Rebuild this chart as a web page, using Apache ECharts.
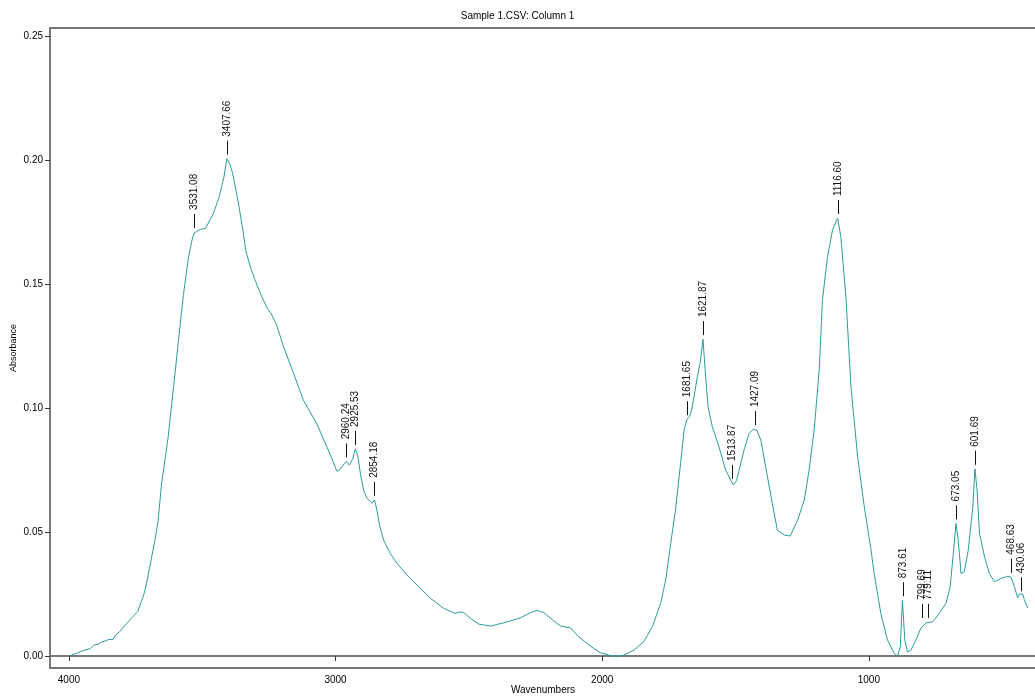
<!DOCTYPE html>
<html>
<head>
<meta charset="utf-8">
<title>Sample 1.CSV: Column 1</title>
<script src="https://cdn.jsdelivr.net/npm/echarts@6/dist/echarts.min.js"></script>
<style>
  html, body { margin: 0; padding: 0; background: #fff; }
  #chart { width: 1035px; height: 697px; }
</style>
</head>
<body>
<div id="chart"></div>
<script>
// spectrum (wavenumber in cm-1, absorbance)
var wavenumbers = [
  4000, 3970, 3940, 3920, 3907, 3890, 3875, 3860, 3850, 3843, 3835, 3825, 3810, 3799, 3785,
  3770, 3755, 3742, 3730, 3717, 3704, 3691, 3678, 3666, 3653, 3640, 3628, 3609, 3590, 3571,
  3552, 3540, 3531, 3520, 3507, 3488, 3470, 3457, 3437, 3418, 3408, 3397, 3387, 3368, 3349,
  3336, 3320, 3304, 3279, 3255, 3241, 3222, 3196, 3158, 3121, 3070, 3019, 2995, 2980, 2968,
  2960, 2948, 2935, 2926, 2917, 2907, 2895, 2882, 2863, 2854, 2845, 2835, 2820, 2795, 2770,
  2726, 2682, 2644, 2594, 2551, 2535, 2519, 2494, 2463, 2419, 2369, 2307, 2269, 2244, 2219,
  2181, 2156, 2119, 2088, 2044, 2006, 1969, 1940, 1919, 1881, 1844, 1812, 1781, 1762, 1743,
  1725, 1706, 1693, 1682, 1672, 1662, 1643, 1631, 1622, 1612, 1603, 1587, 1562, 1537, 1518,
  1508, 1496, 1468, 1449, 1433, 1427, 1420, 1405, 1387, 1362, 1343, 1317, 1295, 1267, 1242,
  1224, 1205, 1186, 1174, 1155, 1136, 1117, 1105, 1086, 1067, 1042, 1017, 992, 980, 955,
  930, 905, 892, 882, 874, 865, 855, 842, 823, 805, 786, 761, 736, 711, 695,
  682, 673, 665, 654, 642, 627, 610, 602, 594, 585, 566, 548, 529, 504, 479,
  467, 454, 442, 436, 429, 423, 417, 410, 404
];
var absorbance = [
  0.0000, 0.0012, 0.0025, 0.0030, 0.0044, 0.0048, 0.0058, 0.0062, 0.0068, 0.0071, 0.0066, 0.0085, 0.0098, 0.0112, 0.0130,
  0.0148, 0.0165, 0.0180, 0.0215, 0.0255, 0.0320, 0.0392, 0.0465, 0.0541, 0.0690, 0.0790, 0.0882, 0.1070, 0.1263, 0.1454,
  0.1604, 0.1670, 0.1705, 0.1712, 0.1720, 0.1724, 0.1760, 0.1788, 0.1849, 0.1935, 0.2005, 0.1985, 0.1950, 0.1849, 0.1727,
  0.1631, 0.1570, 0.1522, 0.1454, 0.1400, 0.1379, 0.1338, 0.1250, 0.1141, 0.1032, 0.0936, 0.0810, 0.0745, 0.0755, 0.0775,
  0.0785, 0.0770, 0.0797, 0.0835, 0.0810, 0.0737, 0.0669, 0.0636, 0.0616, 0.0630, 0.0589, 0.0528, 0.0468, 0.0414, 0.0374,
  0.0320, 0.0273, 0.0233, 0.0192, 0.0172, 0.0178, 0.0175, 0.0152, 0.0129, 0.0121, 0.0134, 0.0154, 0.0175, 0.0184, 0.0175,
  0.0141, 0.0121, 0.0114, 0.0078, 0.0040, 0.0013, 0.0002, 0.0000, 0.0004, 0.0024, 0.0058, 0.0118, 0.0212, 0.0306, 0.0454,
  0.0589, 0.0777, 0.0911, 0.0955, 0.0965, 0.1005, 0.1126, 0.1194, 0.1278, 0.1126, 0.1005, 0.0925, 0.0844, 0.0750, 0.0710,
  0.0690, 0.0707, 0.0831, 0.0898, 0.0914, 0.0915, 0.0911, 0.0871, 0.0763, 0.0616, 0.0508, 0.0488, 0.0484, 0.0548, 0.0629,
  0.0750, 0.0911, 0.1153, 0.1435, 0.1610, 0.1718, 0.1766, 0.1691, 0.1449, 0.1086, 0.0804, 0.0602, 0.0430, 0.0333, 0.0172,
  0.0065, 0.0011, 0.0000, 0.0038, 0.0225, 0.0065, 0.0017, 0.0024, 0.0065, 0.0112, 0.0134, 0.0138, 0.0172, 0.0212, 0.0279,
  0.0427, 0.0535, 0.0468, 0.0333, 0.0340, 0.0427, 0.0602, 0.0755, 0.0669, 0.0495, 0.0400, 0.0333, 0.0300, 0.0313, 0.0322,
  0.0318, 0.0281, 0.0235, 0.0250, 0.0242, 0.0250, 0.0228, 0.0236, 0.0194
];

// picked peaks
var peakWavenumbers = [3531.08, 3407.66, 2960.24, 2925.53, 2854.18, 1681.65, 1621.87, 1513.87, 1427.09, 1116.60, 873.61, 799.69, 779.11, 673.05, 601.69, 468.63, 430.06];
var peakAbsorbance  = [0.1710, 0.2005, 0.0785, 0.0835, 0.0630, 0.0955, 0.1278, 0.0698, 0.0915, 0.1766, 0.0225, 0.0138, 0.0138, 0.0535, 0.0755, 0.0320, 0.0245];
var peakLabels      = ['3531.08', '3407.66', '2960.24', '2925.53', '2854.18', '1681.65', '1621.87', '1513.87', '1427.09', '1116.60', '873.61', '799.69', '779.11', '673.05', '601.69', '468.63', '430.06'];

var spectrum = wavenumbers.map(function (w, i) { return [w, absorbance[i]]; });
var peaks = peakWavenumbers.map(function (w, i) { return [w, peakAbsorbance[i]]; });

var font = '"Liberation Sans", Arial, sans-serif';

// tick mark + rotated number above each peak
function renderPeak(params, api) {
  var p = api.coord([api.value(0), api.value(1)]);
  var x = Math.round(p[0]) + 0.5;
  return {
    type: 'group',
    children: [
      {
        type: 'line',
        shape: { x1: x, y1: p[1] - 4, x2: x, y2: p[1] - 18 },
        style: { stroke: '#111', lineWidth: 1 }
      },
      {
        type: 'text',
        x: x,
        y: p[1] - 22,
        rotation: Math.PI / 2,
        style: {
          text: peakLabels[params.dataIndex],
          align: 'left',
          verticalAlign: 'middle',
          fill: '#111',
          font: '10px ' + font
        }
      }
    ]
  };
}

var myChart = echarts.init(document.getElementById('chart'));

myChart.setOption({
  animation: false,
  backgroundColor: '#fff',
  title: {
    text: 'Sample 1.CSV: Column 1',
    left: 'center',
    top: 6,
    textStyle: { fontSize: 10, fontWeight: 'normal', color: '#000', fontFamily: font }
  },
  grid: {
    left: 50,
    top: 28,
    right: -1,
    bottom: 29,
    containLabel: false,
    outerBoundsMode: 'none',
    show: true,
    borderColor: '#777',
    borderWidth: 2
  },
  xAxis: {
    type: 'value',
    inverse: true,
    min: 373,
    max: 4071,
    splitNumber: 4,
    name: 'Wavenumbers',
    nameLocation: 'middle',
    nameGap: 17,
    nameMoveOverlap: false,
    nameTextStyle: { fontSize: 10, color: '#000', fontFamily: font },
    axisLine: { show: true, lineStyle: { color: '#777', width: 2 } },
    axisTick: { show: true, length: 5, lineStyle: { color: '#333' } },
    axisLabel: {
      margin: 7,
      fontSize: 10,
      color: '#000',
      fontFamily: font,
      showMinLabel: false,
      showMaxLabel: false,
      formatter: function (v) { return String(v); }
    },
    splitLine: { show: false }
  },
  yAxis: {
    type: 'value',
    min: -0.0048,
    max: 0.2532,
    splitNumber: 5,
    name: 'Absorbance',
    nameLocation: 'middle',
    nameGap: 32,
    nameMoveOverlap: false,
    nameRotate: 90,
    nameTextStyle: { fontSize: 9, color: '#000', fontFamily: font },
    axisLine: { show: true, lineStyle: { color: '#777', width: 2 } },
    axisTick: { show: true, length: 5, lineStyle: { color: '#333' } },
    axisLabel: {
      margin: 7,
      fontSize: 10,
      color: '#000',
      fontFamily: font,
      showMinLabel: false,
      showMaxLabel: false,
      formatter: function (v) { return v.toFixed(2); }
    },
    splitLine: { show: false }
  },
  series: [
    {
      name: 'Column 1',
      type: 'line',
      data: spectrum,
      showSymbol: false,
      symbol: 'none',
      smooth: false,
      lineStyle: { color: '#2a9c9c', width: 1 },
      itemStyle: { color: '#2a9c9c' }
    },
    {
      name: 'peaks',
      type: 'custom',
      data: peaks,
      clip: false,
      z: 5,
      renderItem: renderPeak
    }
  ]
});
</script>
</body>
</html>
